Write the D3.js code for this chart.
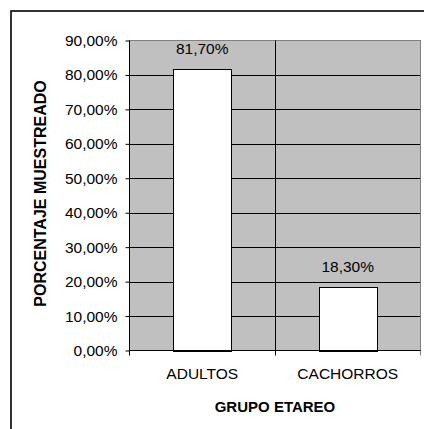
<!DOCTYPE html>
<html>
<head>
<meta charset="utf-8">
<script src="https://cdn.jsdelivr.net/npm/d3@7"></script>
<style>
  html, body { margin: 0; padding: 0; background: #fff; }
  svg { display: block; }
  text { font-family: "Liberation Sans", Arial, sans-serif; fill: #000; }
</style>
</head>
<body>
<svg id="chart" width="424" height="429"></svg>
<script>
// Age groups sampled and share of the sample in each
const categories = ["ADULTOS", "CACHORROS"];
const values = [0.817, 0.183];
const yTicks = [0, 0.1, 0.2, 0.3, 0.4, 0.5, 0.6, 0.7, 0.8, 0.9];
const yTitle = "PORCENTAJE MUESTREADO";
const xTitle = "GRUPO ETAREO";

const esLocale = d3.formatLocale({ decimal: ",", thousands: ".", grouping: [3], currency: ["", " €"] });
const pct = esLocale.format(".2%");

const svg = d3.select("#chart");

// chart frame (runs off the right and bottom edges)
svg.append("rect")
  .attr("x", 11).attr("y", 11)
  .attr("width", 440).attr("height", 440)
  .attr("fill", "#fff").attr("stroke", "#000").attr("stroke-width", 1.6);

const plot = { left: 129.5, right: 420.5, top: 40.5, bottom: 350.5 };

const y = d3.scaleLinear().domain([0, 0.9]).range([plot.bottom, plot.top]);
const xCat = d3.scaleBand().domain(categories).range([plot.left, plot.right]).padding(0);
const xBar = d3.scaleBand().domain(categories).range([plot.left, plot.right])
  .paddingInner(0.6).paddingOuter(0.3);

// plot area background
svg.append("rect")
  .attr("x", plot.left).attr("y", plot.top)
  .attr("width", plot.right - plot.left).attr("height", plot.bottom - plot.top)
  .attr("fill", "#c0c0c0").attr("stroke", "#808080").attr("stroke-width", 1);

// horizontal gridlines
svg.append("g").selectAll("line")
  .data(yTicks.filter(d => d > 0 && d < 0.9))
  .join("line")
  .attr("x1", plot.left).attr("x2", plot.right)
  .attr("y1", d => Math.round(y(d)) + 0.5).attr("y2", d => Math.round(y(d)) + 0.5)
  .attr("stroke", "#000").attr("stroke-width", 1);

// vertical gridline between categories, with tick marks below the axis
const catEdges = [plot.left, ...categories.slice(1).map(c => xCat(c)), plot.right];
svg.append("g").selectAll("line")
  .data(catEdges)
  .join("line")
  .attr("x1", d => Math.round(d - 0.5) + 0.5).attr("x2", d => Math.round(d - 0.5) + 0.5)
  .attr("y1", (d, i) => (i === 0 ? plot.bottom : plot.top))
  .attr("y2", plot.bottom + 5)
  .attr("stroke", (d, i) => (i === catEdges.length - 1 ? "#808080" : "#000"))
  .attr("stroke-width", 1);

// bars
svg.append("g").selectAll("rect")
  .data(categories.map((c, i) => ({ c, v: values[i] })))
  .join("rect")
  .attr("x", d => Math.round(xBar(d.c)) + 0.5)
  .attr("y", d => Math.round(y(d.v)) + 0.5)
  .attr("width", Math.round(xBar.bandwidth()))
  .attr("height", d => Math.round(y(0)) - Math.round(y(d.v)))
  .attr("fill", "#fff").attr("stroke", "#000").attr("stroke-width", 1);

// value labels above the bars
svg.append("g").selectAll("text")
  .data(categories.map((c, i) => ({ c, v: values[i] })))
  .join("text")
  .attr("x", d => xBar(d.c) + xBar.bandwidth() / 2)
  .attr("y", d => y(d.v) - 15)
  .attr("text-anchor", "middle")
  .attr("font-size", 15.5)
  .text(d => pct(d.v));

// y axis
const yAxis = d3.axisLeft(y).tickValues(yTicks).tickFormat(pct).tickSize(4).tickPadding(8);
const gy = svg.append("g").attr("transform", `translate(${plot.left},0)`).call(yAxis);
gy.select(".domain").attr("stroke", "#000").attr("d", `M0,${plot.top}V${plot.bottom}`);
gy.selectAll(".tick line").attr("stroke", "#000");
gy.selectAll(".tick text")
  .attr("font-family", '"Liberation Sans", Arial, sans-serif')
  .attr("font-size", 15.5).attr("fill", "#000");

// x axis baseline
svg.append("line")
  .attr("x1", plot.left).attr("x2", plot.right)
  .attr("y1", plot.bottom).attr("y2", plot.bottom)
  .attr("stroke", "#000").attr("stroke-width", 1);

// category labels
svg.append("g").selectAll("text")
  .data(categories)
  .join("text")
  .attr("x", d => xCat(d) + xCat.bandwidth() / 2)
  .attr("y", 379)
  .attr("text-anchor", "middle")
  .attr("font-size", 15.5)
  .text(d => d);

// axis titles
svg.append("text")
  .attr("x", (plot.left + plot.right) / 2)
  .attr("y", 412)
  .attr("text-anchor", "middle")
  .attr("font-size", 15).attr("font-weight", "bold")
  .text(xTitle);

svg.append("text")
  .attr("transform", `translate(46,${(plot.top + plot.bottom) / 2 - 2}) rotate(-90)`)
  .attr("text-anchor", "middle")
  .attr("font-size", 16).attr("font-weight", "bold")
  .text(yTitle);
</script>
</body>
</html>
